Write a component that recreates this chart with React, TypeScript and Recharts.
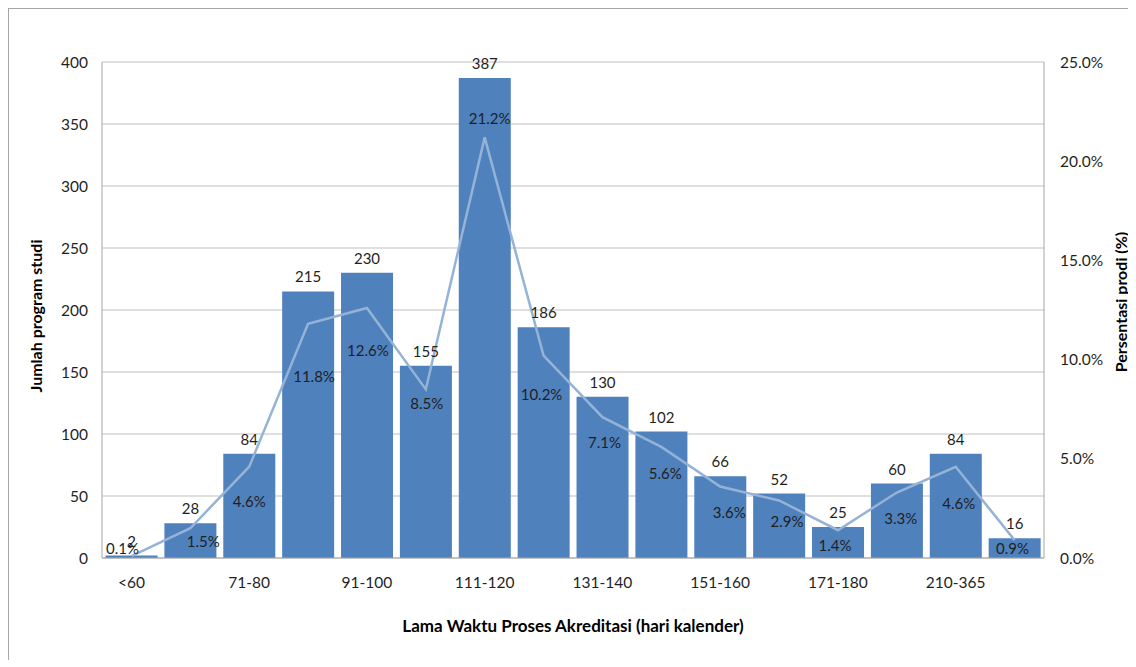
import { ComposedChart, Bar, Line, XAxis, YAxis, CartesianGrid, LabelList } from 'recharts';

const categories = ['<60', '61-70', '71-80', '81-90', '91-100', '101-110', '111-120', '121-130', '131-140', '141-150', '151-160', '161-170', '171-180', '181-209', '210-365', '>365'];
const counts = [2, 28, 84, 215, 230, 155, 387, 186, 130, 102, 66, 52, 25, 60, 84, 16];
const percents = [0.1, 1.5, 4.6, 11.8, 12.6, 8.5, 21.2, 10.2, 7.1, 5.6, 3.6, 2.9, 1.4, 3.3, 4.6, 0.9];
const countTicks = [0, 50, 100, 150, 200, 250, 300, 350, 400];
const percentTicks = [0, 5, 10, 15, 20, 25];

const data = categories.map((name, i) => ({ name, count: counts[i], pct: percents[i] }));

// hand-placed nudges for the percentage labels, like the original
const pctNudge = [
  [-9, -8], [13, 13], [0, 34], [6, 52], [1, 42], [1, 14], [5, -19], [-2, 38],
  [2, 25], [4, 26], [9, 25], [8, 21], [-3, 15], [4, 25], [3, 36], [-2, 8],
];

const FONT = 'Lato, "Open Sans", sans-serif';
const TEXT = '#1f1f1f';

const renderPct = (props: any) => {
  const { x, y, value, index } = props;
  const [dx, dy] = pctNudge[index] || [0, 20];
  return (
    <text x={x + dx} y={y + dy} textAnchor="middle" dominantBaseline="central"
      fontFamily={FONT} fontSize={15} fill={TEXT}>
      {`${Number(value).toFixed(1)}%`}
    </text>
  );
};

const LeftTitle = (props: any) => {
  const { x, y, height } = props.viewBox;
  const cx = x + 26;
  const cy = y + height / 2 + 6;
  return (
    <text x={cx} y={cy} transform={`rotate(-90 ${cx} ${cy})`} textAnchor="middle"
      dominantBaseline="central" fontFamily={FONT} fontWeight="bold" fontSize={16} fill="#000">
      Jumlah program studi
    </text>
  );
};

const RightTitle = (props: any) => {
  const { x, y, height } = props.viewBox;
  const cx = x + 76;
  const cy = y + height / 2 - 8;
  return (
    <text x={cx} y={cy} transform={`rotate(-90 ${cx} ${cy})`} textAnchor="middle"
      dominantBaseline="central" fontFamily={FONT} fontWeight="bold" fontSize={16} fill="#000">
      Persentasi prodi (%)
    </text>
  );
};

const BottomTitle = (props: any) => {
  const { x, y, width } = props.viewBox;
  return (
    <text x={x + width / 2} y={y + 67} textAnchor="middle" dominantBaseline="central"
      fontFamily={FONT} fontWeight="bold" fontSize={17} fill="#000">
      Lama Waktu Proses Akreditasi (hari kalender)
    </text>
  );
};

export default function App() {
  const tickStyle = { fontFamily: FONT, fontSize: 15.5, fill: TEXT };
  return (
    <div style={{ width: 1128, height: 651, borderTop: '1px solid #a6a6a6', borderLeft: '1px solid #a6a6a6', background: '#fff' }}>
      <ComposedChart width={1127} height={650} data={data}
        margin={{ top: 53, right: 0, bottom: 21, left: 0 }} barCategoryGap="6%">
        <CartesianGrid yAxisId="left" vertical={false} stroke="#bfbfbf" />
        <XAxis dataKey="name" interval={1} tickLine={false} tickSize={0} tickMargin={19}
          height={80} stroke="#a6a6a6" tick={tickStyle} label={<BottomTitle />} />
        <YAxis yAxisId="left" width={93} domain={[0, 400]} ticks={countTicks} tickLine={false}
          tickSize={0} tickMargin={14} stroke="#a6a6a6" tick={tickStyle} label={<LeftTitle />} />
        <YAxis yAxisId="right" orientation="right" width={92} domain={[0, 25]} ticks={percentTicks}
          tickFormatter={(v: number) => `${v.toFixed(1)}%`} tickLine={false} tickSize={0}
          tickMargin={16} stroke="#a6a6a6" tick={{ ...tickStyle, textAnchor: 'start' }} label={<RightTitle />} />
        <Bar yAxisId="left" dataKey="count" fill="#4f81bd" isAnimationActive={false}>
          <LabelList dataKey="count" position="top" offset={9} fontFamily={FONT} fontSize={15} fill={TEXT} />
        </Bar>
        <Line yAxisId="right" dataKey="pct" type="linear" stroke="#95b3d7" strokeWidth={2.5}
          dot={false} activeDot={false} isAnimationActive={false}>
          <LabelList dataKey="pct" content={renderPct} />
        </Line>
      </ComposedChart>
    </div>
  );
}
